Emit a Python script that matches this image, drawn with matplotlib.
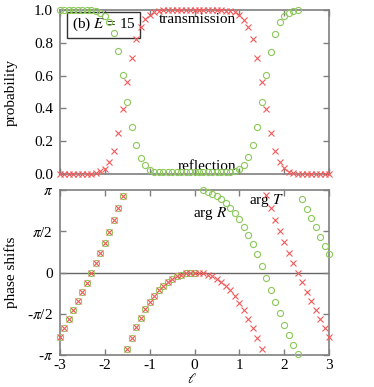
"""Transmission / reflection probabilities and phase shifts vs ell, E = 15."""
import numpy as np
import matplotlib
matplotlib.use("Agg")
import matplotlib.pyplot as plt

plt.rcParams["font.family"] = ["Liberation Serif", "DejaVu Serif"]
plt.rcParams["mathtext.fontset"] = "stix"

# grid of ell values, 0.1 apart
ell = np.linspace(-3.0, 3.0, 61)

# transmission probability |T|^2 (red crosses)
trans = [0.0, 0.0, 0.0, 0.0, 0.0, 0.0, 0.001, 0.003, 0.007, 0.016,
         0.033, 0.072, 0.142, 0.250, 0.395, 0.559, 0.709, 0.823, 0.897, 0.945,
         0.972, 0.986, 0.993, 0.997, 0.998, 0.999, 1.0, 1.0, 1.0, 1.0,
         1.0, 1.0, 1.0, 1.0, 1.0, 0.999, 0.998, 0.996, 0.992, 0.985,
         0.972, 0.941, 0.894, 0.823, 0.710, 0.559, 0.394, 0.248, 0.140, 0.071,
         0.034, 0.014, 0.005, 0.002, 0.001, 0.0, 0.0, 0.0, 0.0, 0.0,
         0.0]

# reflection probability |R|^2 (green circles); nothing drawn past 2.3
refl = [1.0, 1.0, 1.0, 1.0, 1.0, 1.0, 0.999, 0.997, 0.993, 0.984,
        0.965, 0.929, 0.858, 0.750, 0.603, 0.437, 0.288, 0.175, 0.100, 0.053,
        0.026, 0.015, 0.011, 0.010, 0.010, 0.010, 0.010, 0.010, 0.010, 0.010,
        0.010, 0.010, 0.010, 0.010, 0.010, 0.010, 0.010, 0.011, 0.012, 0.018,
        0.030, 0.057, 0.103, 0.177, 0.288, 0.437, 0.601, 0.745, 0.851, 0.928,
        0.964, 0.984, 0.993, 0.997, np.nan, np.nan, np.nan, np.nan, np.nan, np.nan,
        np.nan]

# arg T in units of pi (red crosses)
arg_t = [-0.782, -0.677, -0.568, -0.458, -0.345, -0.233, -0.124, -0.006, 0.112, 0.233,
         0.361, 0.495, 0.636, 0.778, 0.923, -0.927, -0.790, -0.657, -0.548, -0.446,
         -0.361, -0.285, -0.216, -0.160, -0.112, -0.075, -0.048, -0.027, -0.012, -0.003,
         0.0, -0.003, -0.012, -0.027, -0.048, -0.078, -0.115, -0.160, -0.215, -0.290,
         -0.368, -0.455, -0.558, -0.670, -0.790, -0.928, 0.939, 0.778, 0.636, 0.503,
         0.366, 0.240, 0.119, -0.002, -0.119, -0.233, -0.345, -0.455, -0.564, -0.669,
         -0.778]

# arg R in units of pi (green circles)
arg_r = [-0.782, -0.677, -0.568, -0.458, -0.345, -0.233, -0.124, -0.006, 0.112, 0.233,
         0.361, 0.495, 0.636, 0.778, 0.923, -0.927, -0.790, -0.657, -0.548, -0.446,
         -0.361, -0.285, -0.216, -0.160, -0.112, -0.075, -0.048, -0.027, -0.012, -0.003,
         0.0, np.nan, 1.0, 0.980, 0.952, 0.927, 0.887, 0.839, 0.786, 0.718,
         0.645, 0.555, 0.455, 0.342, 0.221, 0.082, -0.070, -0.212, -0.361, -0.495,
         -0.636, -0.758, -0.879, -0.990, 0.891, 0.774, 0.657, 0.552, 0.435, 0.325,
         0.224]

x_ticks = [-3, -2, -1, 0, 1, 2, 3]
x_labels = ["-3", "-2", "-1", "0", "1", "2", "3"]
p_ticks = [0.0, 0.2, 0.4, 0.6, 0.8, 1.0]
p_labels = ["0.0", "0.2", "0.4", "0.6", "0.8", "1.0"]
ph_ticks = [-np.pi, -np.pi / 2, 0, np.pi / 2, np.pi]
ph_labels = [r"-$\pi$", r"-$\pi$/2", "0", r"$\pi$/2", r"$\pi$"]

RED = "#f25a5a"
GREEN = "#8cc85a"
FRAME = "#7f7f7f"
FS = 11


def style_axes(ax):
    for s in ax.spines.values():
        s.set_color(FRAME)
        s.set_linewidth(1.2)
    ax.tick_params(direction="in", top=True, right=True, length=4,
                   width=1.0, color=FRAME, labelsize=FS, pad=5)
    ax.set_xlim(-3, 3)
    ax.set_xticks(x_ticks)


fig = plt.figure(figsize=(3.74, 3.87), dpi=100)
ax1 = fig.add_axes([60 / 374, 1 - 174 / 387, 269 / 374, 164 / 387])
ax2 = fig.add_axes([60 / 374, 1 - 355 / 387, 269 / 374, 165 / 387])

# probabilities
style_axes(ax1)
ax1.plot(ell, refl, ls="none", marker="o", ms=4.4, mfc="none", mec=GREEN,
         mew=0.8, clip_on=False, zorder=3)
ax1.plot(ell, trans, ls="none", marker="x", ms=4.4, mec=RED, mew=0.8,
         clip_on=False, zorder=4)
ax1.set_ylim(0, 1)
ax1.set_yticks(p_ticks)
ax1.set_yticklabels(p_labels)
ax1.set_xticklabels([])
ax1.text(0.93, 0.94, "transmission", ha="right", va="center", fontsize=FS,
         zorder=2)
ax1.text(0.93, 0.045, "reflection", ha="right", va="center", fontsize=FS,
         zorder=2)
ax1.text(-2.02, 0.91, r"(b) $E$ = 15", ha="center", va="center", fontsize=FS,
         zorder=2,
         bbox=dict(boxstyle="square,pad=0.3", fc="white", ec="#333333", lw=1.0))

# phase shifts
style_axes(ax2)
ax2.tick_params(axis="x", pad=3)
ax2.axhline(0, color="#666666", lw=1.0, zorder=1)
ax2.plot(ell, np.array(arg_r) * np.pi, ls="none", marker="o", ms=4.4,
         mfc="none", mec=GREEN, mew=0.8, clip_on=False, zorder=3)
ax2.plot(ell, np.array(arg_t) * np.pi, ls="none", marker="x", ms=4.4,
         mec=RED, mew=0.8, clip_on=False, zorder=4)
ax2.set_ylim(-np.pi, np.pi)
ax2.set_yticks(ph_ticks)
ax2.set_yticklabels(ph_labels)
ax2.set_xticklabels(x_labels)
ax2.text(-0.04, 0.71 * np.pi, r"arg $R$", ha="left", va="center", fontsize=FS)
ax2.text(1.22, 0.87 * np.pi, r"arg $T$", ha="left", va="center", fontsize=FS)

fig.text(11 / 374, 1 - 92 / 387, "probability", rotation=90, ha="center",
         va="center", fontsize=FS)
fig.text(11 / 374, 1 - 272 / 387, "phase shifts", rotation=90, ha="center",
         va="center", fontsize=FS)
fig.text(192 / 374, 1 - 386 / 387, r"$\ell$", ha="center", va="bottom",
         fontsize=10)

fig.savefig("out.png", dpi=100)
